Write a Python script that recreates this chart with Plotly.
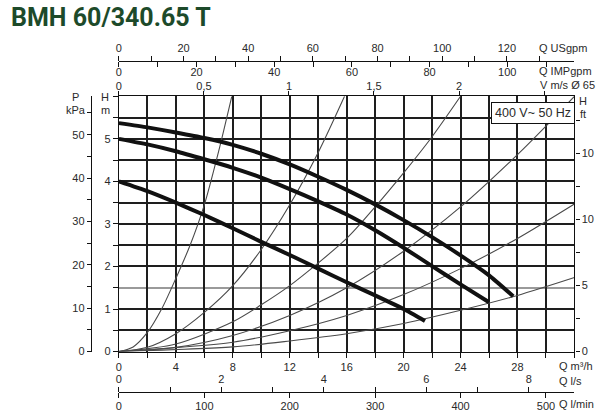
import plotly.graph_objects as go

# ---------------- data ----------------
# thick pump curves: Q [m3/h], H [m]
q_speed3 = [0, 2, 4, 6, 8, 10, 12, 14, 16, 18, 20, 22, 24, 26, 27.7]
h_speed3 = [5.37, 5.27, 5.15, 5.02, 4.86, 4.65, 4.40, 4.11, 3.80, 3.46, 3.09, 2.69, 2.26, 1.79, 1.30]
q_speed2 = [0, 2, 4, 6, 8, 10, 12, 14, 16, 18, 20, 22, 24, 26.0]
h_speed2 = [5.00, 4.87, 4.71, 4.52, 4.32, 4.09, 3.82, 3.53, 3.22, 2.85, 2.44, 2.01, 1.58, 1.16]
q_speed1 = [0, 2, 4, 6, 8, 10, 12, 14, 16, 18, 20, 21.5]
h_speed1 = [4.00, 3.77, 3.50, 3.21, 2.90, 2.58, 2.27, 1.95, 1.63, 1.32, 1.00, 0.72]

# thin system curves from the origin
q_sys1 = [0, 1, 2, 3, 4, 5, 6, 7, 7.93]
h_sys1 = [0, 0.11, 0.45, 1.0, 1.72, 2.5, 3.45, 4.7, 6.0]
q_sys2 = [0, 2, 4, 6, 8, 10, 12, 14, 15.85]
h_sys2 = [0, 0.1, 0.42, 0.92, 1.55, 2.4, 3.45, 4.68, 6.0]
q_sys3 = [0, 4, 8, 10, 12, 16, 18, 20, 22, 24]
h_sys3 = [0, 0.18, 0.7, 1.1, 1.55, 2.66, 3.4, 4.2, 5.05, 6.0]
q_sys4 = [0, 4, 8, 12, 16, 20, 24, 28, 30, 32]
h_sys4 = [0, 0.1, 0.38, 0.85, 1.5, 2.36, 3.4, 4.63, 5.3, 6.0]
q_sys5 = [0, 8, 12, 16, 20, 24, 28, 32]
h_sys5 = [0, 0.22, 0.49, 0.85, 1.34, 1.95, 2.66, 3.47]
q_sys6 = [0, 8, 12, 16, 20, 24, 28, 32]
h_sys6 = [0, 0.11, 0.25, 0.42, 0.66, 0.97, 1.32, 1.74]

# axis ticks / labels
q_ticks = list(range(0, 33, 2))
q_labels = [str(v) if v % 4 == 0 and v < 32 else "" for v in q_ticks]
h_ticks = [0, 0.5, 1, 2, 2.5, 3, 3.5, 4, 4.5, 5, 5.5, 6]
h_labels = [str(int(v)) if float(v).is_integer() and v < 6 else "" for v in h_ticks]
h_light_ticks = [1.5]
p_ticks = list(range(0, 60, 5))
p_labels = [str(v) if v % 10 == 0 else "" for v in p_ticks]
ft_ticks = [0, 2.5, 5, 7.5, 10, 12.5, 15, 17.5]
ft_labels = ["0", "", "5", "", "10", "", "10", ""]
us_ticks = list(range(0, 140, 10))
us_labels = [str(v) if v % 20 == 0 else "" for v in us_ticks]
imp_ticks = list(range(0, 120, 10))
imp_labels = [str(v) if v % 20 == 0 else "" for v in imp_ticks]
v_ticks = [0, 0.5, 1, 1.5, 2, 2.5]
v_labels = ["0", "0,5", "1", "1,5", "2", ""]
ls_ticks = list(range(0, 9))
ls_labels = [str(v) if v % 2 == 0 else "" for v in ls_ticks]
lmin_ticks = [0, 100, 200, 300, 400, 500]
lmin_labels = ["0", "100", "200", "300", "400", "500"]

# ---------------- scale conversions ----------------
Q_MAX = 32.0          # m3/h
H_MAX = 6.0           # m
KPA_PER_M = 9.80665
FT_AXIS_TOP = 19.3
M3H_PER_USGPM = 0.2271
M3H_PER_IMPGPM = 0.27277
M3H_PER_MS = 11.946   # pipe DN65
M3H_PER_LS = 3.6
M3H_PER_LMIN = 0.06

W, HGT = 600, 419
x0, x1 = 116.5, 574.3
y_bot, y_top = 356.7, 97.7
xd = [x0 / W, x1 / W]
yd = [1 - y_bot / HGT, 1 - y_top / HGT]

FONT = "Liberation Sans, Arial, sans-serif"
TXT = "#2a2a2a"
tickfont = dict(family=FONT, size=11, color=TXT)

fig = go.Figure()

for q, h in [(q_sys1, h_sys1), (q_sys2, h_sys2), (q_sys3, h_sys3), (q_sys4, h_sys4), (q_sys5, h_sys5), (q_sys6, h_sys6)]:
    fig.add_trace(go.Scatter(x=q, y=h, mode="lines",
                             line=dict(color="#4a4a4a", width=1.1, shape="spline", smoothing=0.8),
                             showlegend=False, hoverinfo="skip"))

for q, h in [(q_speed1, h_speed1), (q_speed2, h_speed2), (q_speed3, h_speed3)]:
    fig.add_trace(go.Scatter(x=q, y=h, mode="lines",
                             line=dict(color="#111111", width=4, shape="spline", smoothing=0.5),
                             showlegend=False, hoverinfo="skip"))

# empty traces to activate extra axes
for xa, ya in [("x2", "y"), ("x3", "y"), ("x4", "y"), ("x5", "y"), ("x6", "y"), ("x", "y2"), ("x", "y3")]:
    fig.add_trace(go.Scatter(x=[], y=[], xaxis=xa, yaxis=ya, showlegend=False, hoverinfo="skip"))

common_x = dict(showline=True, linecolor="#111", linewidth=1.2, ticks="outside", tickcolor="#111",
                tickwidth=1.2, showgrid=False, zeroline=False, tickfont=tickfont, fixedrange=True)

fig.update_layout(
    width=W, height=HGT, autosize=False,
    margin=dict(l=0, r=0, t=0, b=0),
    paper_bgcolor="white", plot_bgcolor="white",
    xaxis=dict(domain=xd, range=[0, Q_MAX], tickmode="array", tickvals=q_ticks, ticktext=q_labels,
               showline=True, linecolor="#111", linewidth=1.2, mirror=True,
               ticks="outside", ticklen=5, tickcolor="#111", tickwidth=1.2,
               showgrid=True, gridcolor="#1e1e1e", gridwidth=1.5, zeroline=False, tickfont=tickfont),
    yaxis=dict(domain=yd, range=[0, H_MAX], tickmode="array", tickvals=h_ticks, ticktext=h_labels,
               showline=True, linecolor="#111", linewidth=1.2, mirror=False,
               ticks="outside", ticklen=5, tickcolor="#111", tickwidth=1.2,
               showgrid=True, gridcolor="#1e1e1e", gridwidth=1.5, zeroline=False, tickfont=tickfont,
               minor=dict(tickmode="array", tickvals=h_light_ticks, showgrid=True, gridcolor="#9a9a9a",
                          gridwidth=1.5, ticks="outside", ticklen=5, tickcolor="#111")),
    # velocity axis on top border
    xaxis2=dict(common_x, overlaying="x", side="top", anchor="y", range=[0, Q_MAX / M3H_PER_MS],
                tickmode="array", tickvals=v_ticks, ticktext=v_labels, ticklen=4, ticklabelstandoff=-3),
    # USgpm (ticks up) and IMPgpm (ticks down) on one line
    xaxis3=dict(common_x, overlaying="x", side="top", anchor="free", position=1 - 62 / HGT,
                range=[0, Q_MAX / M3H_PER_USGPM], tickmode="array", tickvals=us_ticks, ticktext=us_labels, ticklen=5),
    xaxis4=dict(common_x, overlaying="x", side="bottom", anchor="free", position=1 - 62 / HGT,
                range=[0, Q_MAX / M3H_PER_IMPGPM], tickmode="array", tickvals=imp_ticks, ticktext=imp_labels,
                ticklen=5, ticklabelstandoff=-4),
    # l/s (ticks up) and l/min (ticks down)
    xaxis5=dict(common_x, overlaying="x", side="top", anchor="free", position=1 - 398 / HGT,
                range=[0, Q_MAX / M3H_PER_LS], tickmode="array", tickvals=ls_ticks, ticktext=ls_labels, ticklen=5),
    xaxis6=dict(common_x, overlaying="x", side="bottom", anchor="free", position=1 - 398 / HGT,
                range=[0, Q_MAX / M3H_PER_LMIN], tickmode="array", tickvals=lmin_ticks, ticktext=lmin_labels,
                ticklen=5, ticklabelstandoff=-2),
    # pressure axis
    yaxis2=dict(showline=True, linecolor="#111", linewidth=1.2, ticks="outside", ticklen=4, tickcolor="#111",
                overlaying="y", side="left", anchor="free", position=88.3 / W,
                range=[0, H_MAX * KPA_PER_M], tickmode="array", tickvals=p_ticks, ticktext=p_labels,
                showgrid=False, zeroline=False, tickfont=tickfont),
    # feet axis
    yaxis3=dict(showline=True, linecolor="#111", linewidth=1.2, ticks="outside", ticklen=4, tickcolor="#111",
                overlaying="y", side="right", anchor="x",
                range=[0, FT_AXIS_TOP], tickmode="array", tickvals=ft_ticks, ticktext=ft_labels,
                showgrid=False, zeroline=False, tickfont=tickfont),
)

def ann(text, px, py, xanchor="left", size=11, **kw):
    fig.add_annotation(text=text, x=px / W, y=1 - py / HGT, xref="paper", yref="paper",
                       xanchor=xanchor, yanchor="middle", showarrow=False,
                       font=dict(family=kw.pop("family", FONT), size=size, color=kw.pop("color", TXT)), **kw)

ann("<b>BMH 60/340.65 T</b>", 6, 18, size=25, color="#1d4a2a",
    family="Roboto, Liberation Sans Narrow, sans-serif")
ann("Q USgpm", 537, 49)
ann("Q IMPgpm", 537, 72)
ann("V m/s Ø 65", 538, 86)
ann("H", 583, 102, xanchor="center")
ann("ft", 583, 116, xanchor="center")
ann("P", 73, 98, xanchor="center")
ann("kPa", 73, 112, xanchor="center")
ann("H", 103, 98, xanchor="center")
ann("m", 103, 112, xanchor="center")
ann("Q m³/h", 557, 371)
ann("Q l/s", 557, 387)
ann("Q l/min", 557, 410)
ann("400 V~ 50 Hz", 533, 115, xanchor="center", size=12.5, bgcolor="white", bordercolor="#111",
    borderwidth=1, borderpad=3)

fig.write_html("out.html", config={"displayModeBar": False},
               post_script="document.body.style.margin='0';")
